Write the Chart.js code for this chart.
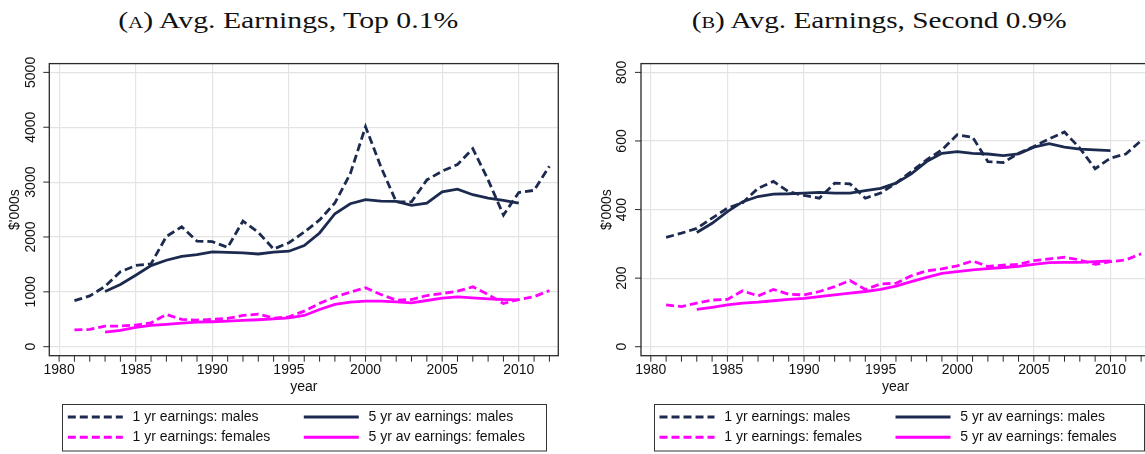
<!DOCTYPE html>
<html>
<head>
<meta charset="utf-8">
<title>Avg. Earnings</title>
<script src="https://cdn.jsdelivr.net/npm/chart.js@4.4.1/dist/chart.umd.min.js"></script>
<style>
    html, body { margin: 0; padding: 0; background: #fff; }
    body { width: 1145px; height: 454px; overflow: hidden; position: relative; }
    .panel-title {
        position: absolute;
        top: 8px;
        white-space: nowrap;
        font-family: 'Liberation Serif', 'DejaVu Serif', serif;
        font-size: 23px;
        color: #111;
        transform-origin: center top;
    }
    .sc { font-variant: small-caps; }
    canvas { position: absolute; top: 0; }
</style>
</head>
<body>
<div class="panel-title" data-center="288" data-width="340">(<span class="sc">a</span>) Avg. Earnings, Top 0.1%</div>
<div class="panel-title" data-center="879" data-width="375">(<span class="sc">b</span>) Avg. Earnings, Second 0.9%</div>
<canvas id="chartA" width="572" height="454" style="left:0"></canvas>
<canvas id="chartB" width="575" height="454" style="left:580px"></canvas>

<script>
/* Dados */
const years1yr = [1981, 1982, 1983, 1984, 1985, 1986, 1987, 1988, 1989, 1990, 1991, 1992, 1993, 1994, 1995, 1996,
    1997, 1998, 1999, 2000, 2001, 2002, 2003, 2004, 2005, 2006, 2007, 2008, 2009, 2010, 2011, 2012]
const years5yr = [1983, 1984, 1985, 1986, 1987, 1988, 1989, 1990, 1991, 1992, 1993, 1994, 1995, 1996,
    1997, 1998, 1999, 2000, 2001, 2002, 2003, 2004, 2005, 2006, 2007, 2008, 2009, 2010]

const xTicks = [1980, 1985, 1990, 1995, 2000, 2005, 2010]
const minorYears = [1980, 1981, 1982, 1983, 1984, 1985, 1986, 1987, 1988, 1989, 1990, 1991, 1992, 1993, 1994, 1995, 1996,
    1997, 1998, 1999, 2000, 2001, 2002, 2003, 2004, 2005, 2006, 2007, 2008, 2009, 2010, 2011, 2012]

const labels = ['1 yr earnings: males', '5 yr av earnings: males', '1 yr earnings: females', '5 yr av earnings: females']

// (A) Top 0.1%
const yTicksA = [0, 1000, 2000, 3000, 4000, 5000]
const males1yrA = [840, 925, 1100, 1365, 1480, 1510, 2010, 2185, 1925, 1915, 1810, 2290, 2085, 1780, 1895, 2090,
    2310, 2620, 3150, 4010, 3280, 2640, 2640, 3040, 3200, 3320, 3610, 3040, 2400, 2810, 2850, 3290]
const males5yrA = [1006, 1133, 1303, 1479, 1576, 1648, 1679, 1727, 1721, 1709, 1690, 1725, 1740, 1842,
    2073, 2424, 2606, 2679, 2655, 2648, 2576, 2618, 2824, 2873, 2770, 2709, 2667, 2618]
const females1yrA = [305, 315, 376, 376, 394, 436, 588, 497, 485, 497, 515, 570, 594, 521, 545, 648,
    790, 905, 994, 1073, 952, 848, 860, 933, 970, 1012, 1091, 952, 788, 860, 912, 1022]
const females5yrA = [267, 297, 352, 388, 406, 430, 448, 455, 467, 479, 491, 509, 527, 570,
    679, 770, 812, 830, 830, 818, 800, 842, 885, 909, 891, 873, 860, 855]

// (B) Second 0.9%
const yTicksB = [0, 200, 400, 600, 800]
const males1yrB = [319, 331, 345, 375, 404, 420, 462, 482, 452, 441, 433, 477, 475, 433, 448, 477,
    511, 545, 574, 618, 611, 540, 537, 564, 584, 606, 626, 579, 519, 550, 562, 601]
const males5yrB = [333, 360, 394, 423, 438, 445, 446, 448, 450, 448, 448, 455, 462, 477,
    504, 540, 564, 569, 564, 562, 557, 562, 582, 592, 582, 576, 574, 572]
const females1yrB = [122, 117, 127, 136, 138, 163, 148, 167, 153, 151, 161, 175, 193, 167, 183, 185,
    207, 221, 227, 236, 250, 234, 238, 240, 251, 256, 261, 253, 240, 248, 253, 271]
const females5yrB = [109, 115, 122, 127, 130, 134, 138, 141, 146, 151, 156, 161, 167, 177,
    190, 202, 214, 219, 224, 228, 231, 234, 240, 245, 246, 246, 248, 250]

const navy = '#1b2a4e'
const magenta = '#ff00ff'
const gridColor = '#e4e4e4'
const textColor = '#111'
const fontFamily = "'Liberation Sans', Arial, sans-serif"

Chart.defaults.font.family = fontFamily
Chart.defaults.font.size = 14
Chart.defaults.color = textColor

//Títulos dos painéis

document.querySelectorAll('.panel-title').forEach((el) => {
    const w = el.getBoundingClientRect().width
    const k = Number(el.dataset.width) / w
    el.style.left = (Number(el.dataset.center) - w / 2) + 'px'
    el.style.transform = `scaleX(${k})`
})

function toPoints(years, values) {
    return years.map((year, i) => ({ x: year, y: values[i] }))
}

/* Moldura, marcas, rótulos girados e legenda no estilo Stata */
const stataPlot = {
    id: 'stataPlot',
    afterDraw(chart, args, opts) {
        const { ctx, chartArea: area, scales: { x, y } } = chart
        ctx.save()

        ctx.strokeStyle = '#2a2a2a'
        ctx.lineWidth = 1.3
        ctx.strokeRect(area.left, area.top, area.right - area.left, area.bottom - area.top)

        ctx.beginPath()
        minorYears.forEach((year) => {
            const px = x.getPixelForValue(year)
            ctx.moveTo(px, area.bottom)
            ctx.lineTo(px, area.bottom + 6)
        })
        y.ticks.forEach((t) => {
            const py = y.getPixelForValue(t.value)
            ctx.moveTo(area.left - 6, py)
            ctx.lineTo(area.left, py)
        })
        ctx.lineWidth = 1
        ctx.stroke()

        ctx.fillStyle = textColor
        ctx.font = '14px ' + fontFamily
        ctx.textAlign = 'center'
        ctx.textBaseline = 'middle'
        y.ticks.forEach((t) => {
            ctx.save()
            ctx.translate(area.left - 18.5, y.getPixelForValue(t.value))
            ctx.rotate(-Math.PI / 2)
            ctx.fillText(String(t.value), 0, 0)
            ctx.restore()
        })

        // legenda
        const box = { left: area.left + 12.5, top: area.bottom + 48.3, width: opts.legendWidth, height: 46.5 }
        ctx.strokeStyle = '#333'
        ctx.lineWidth = 1
        ctx.strokeRect(Math.round(box.left) + 0.5, Math.round(box.top) + 0.5, box.width, box.height)

        ctx.textAlign = 'left'
        chart.data.datasets.forEach((ds, i) => {
            const col = i % 2
            const row = Math.floor(i / 2)
            const x0 = box.left + 6 + col * 236
            const yy = box.top + 13 + row * 20.3
            ctx.setLineDash(ds.borderDash || [])
            ctx.strokeStyle = ds.borderColor
            ctx.lineWidth = 3
            ctx.beginPath()
            ctx.moveTo(x0, yy)
            ctx.lineTo(x0 + 55, yy)
            ctx.stroke()
            ctx.setLineDash([])
            ctx.fillText(ds.label, x0 + 64.7, yy)
        })

        ctx.restore()
    }
}

function makeChart(canvasId, series, cfg) {
    const datasets = [
        { label: labels[0], data: toPoints(years1yr, series.males1yr), borderColor: navy, borderDash: [8, 4] },
        { label: labels[1], data: toPoints(years5yr, series.males5yr), borderColor: navy },
        { label: labels[2], data: toPoints(years1yr, series.females1yr), borderColor: magenta, borderDash: [8, 4] },
        { label: labels[3], data: toPoints(years5yr, series.females5yr), borderColor: magenta }
    ]
    datasets.forEach((ds) => {
        ds.borderWidth = 2.8
        ds.pointRadius = 0
        ds.fill = false
        ds.tension = 0
        ds.borderCapStyle = 'butt'
    })

    return new Chart(document.getElementById(canvasId), {
        type: 'line',
        data: { datasets },
        options: {
            responsive: false,
            animation: false,
            devicePixelRatio: 1,
            layout: { padding: { top: 63.6, bottom: 58.3, left: 0, right: cfg.padRight } },
            plugins: {
                legend: { display: false },
                tooltip: { enabled: false },
                stataPlot: { legendWidth: cfg.legendWidth }
            },
            scales: {
                x: {
                    type: 'linear',
                    min: 1979.36,
                    max: 2012.58,
                    afterBuildTicks: (s) => { s.ticks = xTicks.map((v) => ({ value: v })) },
                    afterFit: (s) => { s.height = 40 },
                    ticks: { padding: 6, maxRotation: 0, autoSkip: false, callback: (v) => String(v) },
                    grid: { color: gridColor, lineWidth: 1.2, drawTicks: false },
                    border: { display: false },
                    title: { display: true, text: 'year', padding: { top: 0, bottom: 0 } }
                },
                y: {
                    type: 'linear',
                    min: cfg.yMin,
                    max: cfg.yMax,
                    afterBuildTicks: (s) => { s.ticks = cfg.yTicks.map((v) => ({ value: v })) },
                    afterFit: (s) => { s.width = cfg.yAxisWidth },
                    ticks: { display: false },
                    grid: { color: gridColor, lineWidth: 1.2, drawTicks: false },
                    border: { display: false },
                    title: { display: true, text: "$'000s", padding: { top: cfg.titlePad, bottom: 0 } }
                }
            }
        },
        plugins: [stataPlot]
    })
}

makeChart('chartA',
    { males1yr: males1yrA, males5yr: males5yrA, females1yr: females1yrA, females5yr: females5yrA },
    { yTicks: yTicksA, yMin: -164, yMax: 5160, yAxisWidth: 49.3, titlePad: 7, padRight: 13.7, legendWidth: 484 })

makeChart('chartB',
    { males1yr: males1yrB, males5yr: males5yrB, females1yr: females1yrB, females5yr: females5yrB },
    { yTicks: yTicksB, yMin: -26.2, yMax: 825.6, yAxisWidth: 61, titlePad: 18.6, padRight: 5, legendWidth: 490 })
</script>
</body>
</html>
